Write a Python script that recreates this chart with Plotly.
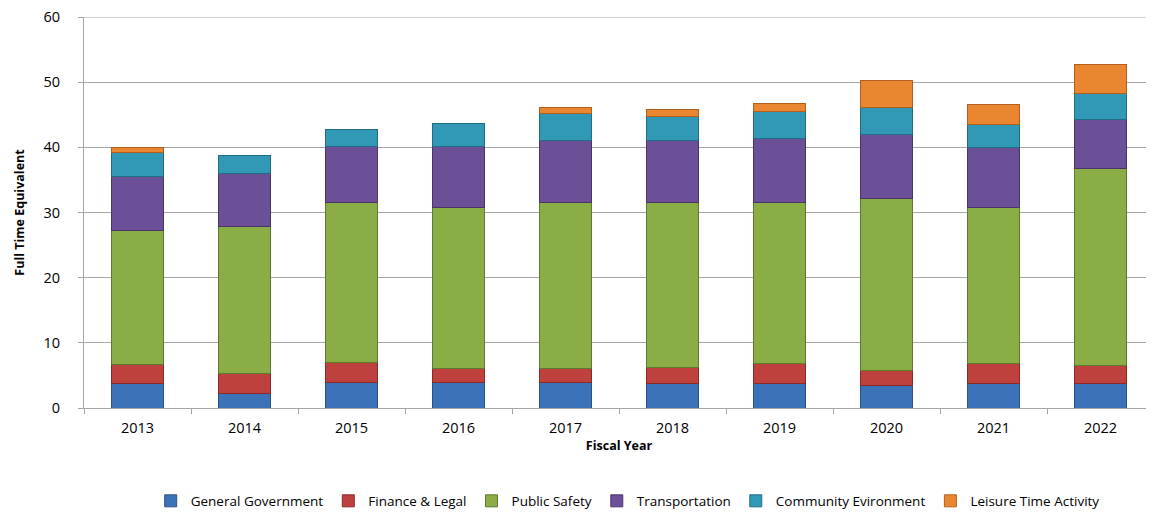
"""Stacked FTE bar chart by fiscal year and department."""

import plotly.graph_objects as go

YEARS = ["2013", "2014", "2015", "2016", "2017", "2018", "2019", "2020", "2021", "2022"]

GENERAL_GOV = [3.7, 2.3, 3.9, 3.9, 3.9, 3.8, 3.8, 3.4, 3.8, 3.7]
FINANCE_LEGAL = [3.0, 3.05, 3.1, 2.1, 2.1, 2.4, 3.05, 2.4, 3.1, 2.8]
PUBLIC_SAFETY = [20.6, 22.5, 24.6, 24.7, 25.6, 25.4, 24.75, 26.3, 23.8, 30.3]
TRANSPORTATION = [8.2, 8.2, 8.6, 9.4, 9.4, 9.4, 9.8, 9.8, 9.2, 7.5]
COMMUNITY_ENV = [3.7, 2.7, 2.6, 3.5, 4.2, 3.7, 4.1, 4.2, 3.6, 4.0]
LEISURE = [0.7, 0.0, 0.0, 0.0, 0.9, 1.1, 1.2, 4.1, 3.1, 4.4]

SERIES = [
    ("General Government", GENERAL_GOV, "#3c72b8", "#2a5288"),
    ("Finance & Legal", FINANCE_LEGAL, "#bf413d", "#8a2a28"),
    ("Public Safety", PUBLIC_SAFETY, "#8aad45", "#5e7a2c"),
    ("Transportation", TRANSPORTATION, "#6c5097", "#4a356b"),
    ("Community Evironment", COMMUNITY_ENV, "#3199b6", "#1f6e85"),
    ("Leisure Time Activity", LEISURE, "#ea8630", "#b0601c"),
]

FONT = "Open Sans"
GRID = "#a6a6a6"
Y_MAX = 60

fig = go.Figure()
for name, vals, color, edge in SERIES:
    # zero-height segments would otherwise show their outline
    y = [v if v > 0 else None for v in vals]
    fig.add_trace(go.Bar(
        x=YEARS,
        y=y,
        name=name,
        marker=dict(color=color, line=dict(color=edge, width=1)),
        hovertemplate="%{x}<br>" + name + ": %{y:.1f}<extra></extra>",
    ))

# plotly skips the gridline at the very top of the range
fig.add_hline(y=Y_MAX, line_color=GRID, line_width=1, layer="below")

# the page body adds an 8px offset, so margins are shifted to compensate
fig.update_layout(
    barmode="stack",
    bargap=0.51,
    width=1154,
    height=512,
    margin=dict(l=76, r=8, t=9, b=112),
    plot_bgcolor="white",
    paper_bgcolor="white",
    font=dict(family=FONT, size=14, color="#000000"),
    showlegend=True,
    legend=dict(
        orientation="h",
        xref="container",
        yref="container",
        x=0.537,
        xanchor="center",
        y=0.037,
        yanchor="middle",
        font=dict(size=13.5),
        itemwidth=30,
        traceorder="normal",
    ),
    xaxis=dict(
        title=dict(text="<b>Fiscal Year</b>", font=dict(size=12.5), standoff=4),
        automargin=False,
        showline=True,
        linecolor=GRID,
        ticks="outside",
        tickson="boundaries",
        ticklen=5,
        tickcolor=GRID,
        showgrid=False,
        tickfont=dict(size=14.5),
        ticklabelstandoff=7,
    ),
    yaxis=dict(
        title=dict(text="<b>Full Time Equivalent</b>", font=dict(size=12.5), standoff=16),
        automargin=False,
        range=[0, Y_MAX],
        dtick=10,
        showline=True,
        linecolor=GRID,
        ticks="outside",
        ticklen=5,
        tickcolor=GRID,
        gridcolor=GRID,
        zeroline=False,
        tickfont=dict(size=14.5),
        ticklabelstandoff=15,
        ticklabeloverflow="allow",
    ),
)

fig.write_html("out.html")
